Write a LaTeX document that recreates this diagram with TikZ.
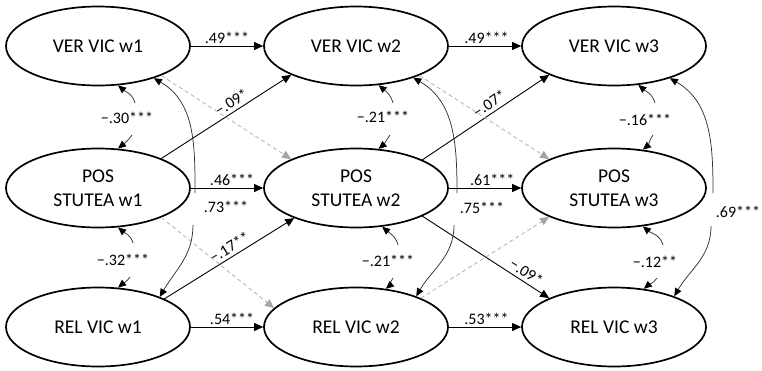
\documentclass[tikz,border=0pt]{standalone}
\usepackage{fontspec}
\setmainfont{Carlito}
\usetikzlibrary{arrows.meta,shapes.geometric}
\definecolor{dashgray}{RGB}{185,185,185}
\definecolor{tipgray}{RGB}{165,165,165}
\definecolor{arcgray}{RGB}{50,50,50}
\begin{document}
\begin{tikzpicture}[x=1pt,y=1pt,
  latent/.style={ellipse, draw, line width=1.7pt, minimum width=184pt, minimum height=79pt,
    inner sep=0pt, align=center, font=\fontsize{19.5}{24}\selectfont},
  regpath/.style={line width=0.9pt, -{Triangle[length=9pt,width=8pt]}},
  crosspath/.style={line width=0.9pt, draw=dashgray, dash pattern=on 4pt off 3pt,
    -{Triangle[length=9pt,width=8pt,fill=tipgray,color=tipgray]}},
  covarc/.style={line width=0.75pt, draw=arcgray, -{Triangle[length=8pt,width=7pt,fill=black,color=black]}},
  lbl/.style={font=\fontsize{16}{18}\selectfont, inner sep=2pt},
  slbl/.style={lbl, sloped, above, inner sep=3.5pt},
]
\useasboundingbox (0,0) rectangle (762,-370);

% latent variables
\node[latent] (v1) at (98,-46)  {VER VIC w1};
\node[latent] (v2) at (356,-46) {VER VIC w2};
\node[latent] (v3) at (614,-46) {VER VIC w3};
\node[latent] (p1) at (98,-188)  {POS\\STUTEA w1};
\node[latent] (p2) at (356,-188) {POS\\STUTEA w2};
\node[latent] (p3) at (614,-188) {POS\\STUTEA w3};
\node[latent] (r1) at (98,-327)  {REL VIC w1};
\node[latent] (r2) at (356,-327) {REL VIC w2};
\node[latent] (r3) at (614,-327) {REL VIC w3};

% autoregressive paths
\draw[regpath] (v1) -- node[lbl,above,pos=0.5]{.49***} (v2);
\draw[regpath] (v2) -- node[lbl,above,pos=0.52]{.49***} (v3);
\draw[regpath] (p1) -- node[lbl,above,pos=0.57]{.46***} (p2);
\draw[regpath] (p2) -- node[lbl,above,pos=0.6]{.61***} (p3);
\draw[regpath] (r1) -- node[lbl,above,pos=0.57]{.54***} (r2);
\draw[regpath] (r2) -- node[lbl,above,pos=0.52]{.53***} (r3);

% cross-lagged significant paths
\draw[regpath] (p1.25) -- node[slbl,pos=0.58]{−.09*} (v2.204);
\draw[regpath] (p2.23) -- node[slbl,pos=0.57]{−.07*} (v3.204);
\draw[regpath] (r1.23) -- node[slbl,pos=0.54]{−.17**} (p2.206);
\draw[regpath] (p2.-23) -- node[slbl,pos=0.78]{−.09*} (r3.156);

% non-significant cross-lagged paths
\draw[crosspath] (v1.-25) -- (p2.156);
\draw[crosspath] (v2.-25) -- (p3.156);
\draw[crosspath] (p1.-25) -- (r2.167);
\draw[crosspath] (r2.24) -- (p3.204);

% stability covariances VER - REL
\coordinate (a1t) at (195,-193); \coordinate (a1b) at (193,-225);
\draw[covarc] (a1t) to[out=90,in=-30] (v1.-30);
\draw[covarc] (a1b) to[out=-90,in=60] (r1.26);
\node[lbl] (l73) at (226,-207) {.73***};
\coordinate (a2t) at (457,-193); \coordinate (a2b) at (454,-225);
\draw[covarc] (a2t) to[out=90,in=-30] (v2.-29);
\draw[covarc] (a2b) to[out=-90,in=60] (r2.27);
\node[lbl] (l75) at (482,-208) {.75***};
\coordinate (a3t) at (713,-193); \coordinate (a3b) at (711,-226);
\draw[covarc] (a3t) to[out=90,in=-30] (v3.-30);
\draw[covarc] (a3b) to[out=-90,in=60] (r3.27);
\node[lbl] (l69) at (738,-212) {.69***};

% within-wave covariances
\coordinate (c1t) at (135,-103); \coordinate (c1b) at (132,-135);
\draw[covarc] (c1t) to[out=105,in=-40] (v1.-63);
\draw[covarc] (c1b) to[out=-125,in=40] (p1.63);
\node[lbl] (l30) at (127,-118) {−.30***};

\coordinate (c2t) at (133,-243); \coordinate (c2b) at (130,-277);
\draw[covarc] (c2t) to[out=105,in=-40] (p1.-63);
\draw[covarc] (c2b) to[out=-125,in=40] (r1.63);
\node[lbl] (l32) at (123,-260) {−.32***};

\coordinate (c3t) at (393,-103); \coordinate (c3b) at (390,-135);
\draw[covarc] (c3t) to[out=105,in=-40] (v2.-60);
\draw[covarc] (c3b) to[out=-125,in=40] (p2.60);
\node[lbl] (l21a) at (383,-117) {−.21***};

\coordinate (c4t) at (398,-245); \coordinate (c4b) at (393,-278);
\draw[covarc] (c4t) to[out=105,in=-40] (p2.-56);
\draw[covarc] (c4b) to[out=-125,in=40] (r2.52);
\node[lbl] (l21b) at (388,-261) {−.21***};

\coordinate (c5t) at (655,-103); \coordinate (c5b) at (653,-135);
\draw[covarc] (c5t) to[out=105,in=-40] (v3.-58);
\draw[covarc] (c5b) to[out=-125,in=40] (p3.53);
\node[lbl] (l16) at (645,-120) {−.16***};

\coordinate (c6t) at (663,-245); \coordinate (c6b) at (657,-278);
\draw[covarc] (c6t) to[out=105,in=-40] (p3.-53);
\draw[covarc] (c6b) to[out=-125,in=40] (r3.52);
\node[lbl] (l12) at (655,-262) {−.12**};
\end{tikzpicture}
\end{document}
